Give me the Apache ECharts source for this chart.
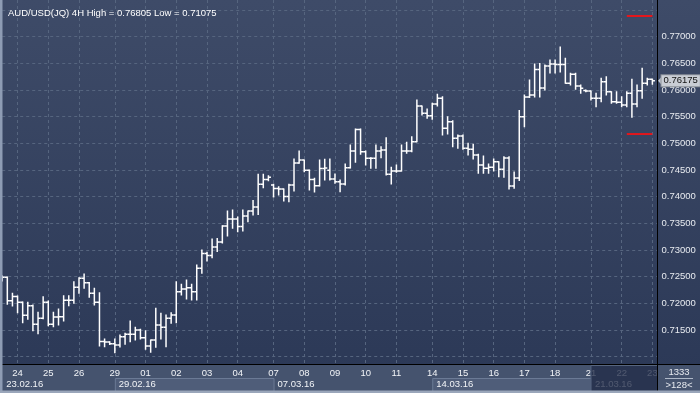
<!DOCTYPE html>
<html><head><meta charset="utf-8">
<script src="https://cdn.jsdelivr.net/npm/echarts@6/dist/echarts.min.js"></script>
<style>html,body{margin:0;padding:0;background:#34425f}#c{width:700px;height:393px}</style>
</head><body><div id="c"></div>
<script>
// ---- categories (4H bars) ----
const H6 = [0, 4, 8, 12, 16, 20];
const sessionDays = ['23.02','24.02','25.02','26.02','28.02','29.02','01.03','02.03','03.03','04.03','06.03','07.03','08.03','09.03','10.03','11.03','13.03','14.03','15.03','16.03','17.03','18.03','20.03','21.03','22.03','23.03'];
const sessionHours = [[12,16,20],H6,H6,H6,[20],H6,H6,H6,H6,H6,[20],H6,H6,H6,H6,H6,[20],H6,H6,H6,H6,H6,[20],H6,H6,[0,4]];
const weekStarts = ['23.02 12:00','29.02 00:00','07.03 00:00','14.03 00:00','21.03 00:00'];
const weekNames = ['23.02.16','29.02.16','07.03.16','14.03.16','21.03.16'];

// ---- OHLC values ----
const openP = [0.72457,0.72489,0.72050,0.72129,0.72020,0.71776,0.71956,0.71607,0.71720,0.72020,
0.71607,0.71744,0.71750,0.72057,0.72057,0.72301,0.72470,0.72387,0.72189,0.72020,
0.71285,0.71276,0.71244,0.71219,0.71375,0.71420,0.71420,0.71501,0.71356,0.71201,
0.71313,0.71594,0.71551,0.71720,0.71782,0.72219,0.72269,0.72294,0.72219,0.72658,
0.72935,0.72897,0.73057,0.73151,0.73451,0.73582,0.73582,0.73441,0.73638,0.73732,
0.73807,0.74232,0.74322,0.74219,0.74154,0.74144,0.74004,0.74219,0.74632,0.74688,
0.74495,0.74322,0.74206,0.74529,0.74495,0.74332,0.74281,0.74238,0.74544,0.74857,
0.75260,0.74844,0.74720,0.74720,0.74857,0.74876,0.74420,0.74482,0.74482,0.74857,
0.74857,0.75031,0.75701,0.75564,0.75520,0.75738,0.75845,0.75282,0.75406,0.75095,
0.75138,0.74907,0.74889,0.74782,0.74594,0.74533,0.74551,0.74656,0.74514,0.74726,
0.74201,0.74351,0.75500,0.75869,0.75907,0.76385,0.76038,0.76451,0.76488,0.76479,
0.76479,0.76126,0.76295,0.76076,0.75991,0.75982,0.75845,0.75845,0.76156,0.75969,
0.75781,0.75770,0.75719,0.75939,0.75738,0.75988,0.76126,0.76201];
const highP = [0.72513,0.72495,0.72189,0.72138,0.72026,0.72020,0.71969,0.71832,0.72125,0.72044,
0.71832,0.71894,0.72144,0.72144,0.72406,0.72481,0.72551,0.72392,0.72283,0.72200,
0.71332,0.71281,0.71332,0.71407,0.71439,0.71669,0.71551,0.71514,0.71487,0.71313,
0.71908,0.71814,0.71782,0.71825,0.72406,0.72357,0.72438,0.72357,0.72719,0.73001,
0.72957,0.73207,0.73216,0.73456,0.73732,0.73751,0.73619,0.73751,0.73732,0.73929,
0.74420,0.74420,0.74394,0.74232,0.74187,0.74144,0.74232,0.74707,0.74857,0.74688,
0.74501,0.74345,0.74688,0.74701,0.74707,0.74426,0.74313,0.74613,0.74969,0.75269,
0.75269,0.74857,0.74732,0.74969,0.74937,0.75106,0.74551,0.74594,0.74969,0.75020,
0.75125,0.75813,0.75701,0.75644,0.75751,0.75920,0.75875,0.75500,0.75425,0.75157,
0.75157,0.75001,0.74982,0.74795,0.74763,0.74613,0.74707,0.74656,0.74750,0.74750,
0.74463,0.75616,0.75907,0.76188,0.76488,0.76497,0.76469,0.76563,0.76563,0.76805,
0.76595,0.76314,0.76314,0.76094,0.76001,0.75982,0.75939,0.76220,0.76250,0.75969,
0.75969,0.75875,0.75969,0.76201,0.76094,0.76407,0.76220,0.76201];
const lowP = [0.72419,0.71982,0.71951,0.71825,0.71637,0.71701,0.71487,0.71431,0.71712,0.71581,
0.71562,0.71594,0.71669,0.71956,0.72001,0.72189,0.72283,0.72114,0.71969,0.71201,
0.71188,0.71229,0.71075,0.71182,0.71232,0.71281,0.71313,0.71332,0.71139,0.71085,
0.71176,0.71332,0.71188,0.71626,0.71637,0.72157,0.72082,0.72063,0.72063,0.72564,
0.72794,0.72856,0.72972,0.73132,0.73263,0.73407,0.73344,0.73357,0.73531,0.73657,
0.73666,0.74169,0.74300,0.73994,0.74032,0.73919,0.73906,0.74107,0.74626,0.74469,
0.74126,0.74088,0.74201,0.74313,0.74313,0.74251,0.74094,0.74219,0.74538,0.74645,
0.74795,0.74594,0.74533,0.74533,0.74731,0.74407,0.74238,0.74457,0.74482,0.74814,
0.74844,0.75031,0.75532,0.75470,0.75451,0.75701,0.75157,0.75176,0.74937,0.74907,
0.74889,0.74782,0.74707,0.74439,0.74439,0.74439,0.74482,0.74375,0.74364,0.74144,
0.74157,0.74304,0.75312,0.75860,0.75869,0.75869,0.76001,0.76319,0.76319,0.76338,
0.76126,0.76094,0.76014,0.75939,0.75969,0.75813,0.75687,0.75781,0.75907,0.75751,
0.75751,0.75687,0.75687,0.75489,0.75687,0.75845,0.76094,0.76107];
const closeP = [0.72489,0.72050,0.72129,0.72020,0.71776,0.71956,0.71607,0.71720,0.72020,0.71607,
0.71744,0.71750,0.72057,0.72057,0.72301,0.72470,0.72387,0.72189,0.72020,0.71285,
0.71276,0.71244,0.71219,0.71375,0.71420,0.71420,0.71501,0.71356,0.71201,0.71313,
0.71594,0.71551,0.71720,0.71782,0.72219,0.72269,0.72294,0.72219,0.72658,0.72935,
0.72897,0.73057,0.73151,0.73451,0.73582,0.73582,0.73441,0.73638,0.73732,0.73807,
0.74232,0.74322,0.74364,0.74154,0.74144,0.74004,0.74219,0.74632,0.74688,0.74495,
0.74322,0.74206,0.74529,0.74538,0.74332,0.74281,0.74238,0.74544,0.74857,0.75260,
0.74844,0.74720,0.74720,0.74857,0.74876,0.74420,0.74482,0.74482,0.74857,0.74857,
0.75031,0.75701,0.75564,0.75520,0.75738,0.75845,0.75282,0.75406,0.75095,0.75138,
0.74907,0.74889,0.74782,0.74594,0.74533,0.74551,0.74656,0.74514,0.74726,0.74201,
0.74351,0.75500,0.75869,0.75907,0.76385,0.76038,0.76451,0.76488,0.76479,0.76479,
0.76126,0.76295,0.76076,0.76032,0.75982,0.75845,0.75845,0.76156,0.75969,0.75781,
0.75770,0.75719,0.75939,0.75738,0.75988,0.76126,0.76201,0.76175];

// red level lines
const redLevels = [0.77388, 0.75175];
const redFrom = '22.03 04:00';
const redTo = '23.03 00:00';

// y-axis tick settings
const yMin = 0.705, yMax = 0.775, yStep = 0.005;
const yLabelLo = 0.715, yLabelHi = 0.770;

// ---- build ----
const categories = [];
sessionDays.forEach((d, k) => sessionHours[k].forEach(h => categories.push(d + ' ' + String(h).padStart(2, '0') + ':00')));
const isDayStart = v => v.endsWith(' 00:00');
const ohlc = openP.map((o, i) => [i, o, highP[i], lowP[i], closeP[i]]);
const FONT = "'Liberation Sans', Arial, sans-serif";
const titleText = 'AUD/USD(JQ) 4H High = ' + Math.max(...highP).toFixed(5) + ' Low = ' + Math.min(...lowP).toFixed(5);

function renderOHLC(params, api) {
  const i = api.value(0);
  const pO = api.coord([i, api.value(1)]);
  const pH = api.coord([i, api.value(2)]);
  const pL = api.coord([i, api.value(3)]);
  const pC = api.coord([i, api.value(4)]);
  const step = api.coord([i + 1, api.value(1)])[0] - pO[0];
  const half = step * 0.5;
  const x = pH[0];
  const st = { stroke: '#ffffff', lineWidth: 1.5 };
  return {
    type: 'group',
    children: [
      { type: 'line', shape: { x1: x, y1: pH[1] - 0.5, x2: x, y2: pL[1] + 0.5 }, style: st },
      { type: 'line', shape: { x1: x - half, y1: pO[1], x2: x, y2: pO[1] }, style: st },
      { type: 'line', shape: { x1: x, y1: pC[1], x2: x + half, y2: pC[1] }, style: st }
    ]
  };
}
function renderLevel(params, api) {
  const a = api.coord([api.value(0), api.value(2)]);
  const b = api.coord([api.value(1), api.value(2)]);
  return { type: 'line', shape: { x1: a[0], y1: a[1], x2: b[0], y2: b[1] }, style: { stroke: '#e3161c', lineWidth: 2 } };
}

const chart = echarts.init(document.getElementById('c'), null, { renderer: 'canvas', width: 700, height: 393 });
const gridCol = '#56657f';
// 0.775 sits at y≈10, 0.705 at y≈383.4 (26.67 px per 0.005)
const option = {
  animation: false,
  backgroundColor: { type: 'linear', x: 0, y: 0, x2: 0, y2: 1, colorStops: [{ offset: 0, color: '#3e4b68' }, { offset: 1, color: '#2b3856' }] },
  title: { text: titleText, left: 3, top: 3, textStyle: { color: '#ffffff', fontSize: 9.5, fontWeight: 'normal', fontFamily: FONT } },
  grid: [
    { left: 2.2, right: 42.5, top: 10.03, bottom: 9.6, containLabel: false },
    { left: 2.2, right: 42.5, top: 0, bottom: 29, containLabel: false }
  ],
  xAxis: [
    { type: 'category', gridIndex: 0, data: categories, boundaryGap: false, axisLine: { show: false }, axisTick: { show: false }, axisLabel: { show: false }, splitLine: { show: false } },
    { type: 'category', gridIndex: 0, data: categories, boundaryGap: false, position: 'bottom', offset: -19.4, z: 60,
      axisLine: { show: false }, axisTick: { show: false }, splitLine: { show: false },
      axisLabel: { interval: (i, v) => isDayStart(v), formatter: v => v.slice(0, 2), color: '#f2f4f7', fontSize: 9.5, fontFamily: FONT, margin: 4 } },
    { type: 'category', gridIndex: 0, data: categories, boundaryGap: false, position: 'bottom', offset: -19.4, z: 60,
      axisLine: { show: false }, axisTick: { show: false }, splitLine: { show: false },
      axisLabel: { interval: (i, v) => weekStarts.includes(v), formatter: v => weekNames[weekStarts.indexOf(v)], align: 'left', padding: [0, 0, 0, 4],
        color: '#f2f4f7', fontSize: 9.5, fontFamily: FONT, margin: 15 } },
    { type: 'category', gridIndex: 1, data: categories, boundaryGap: false, axisLine: { show: false }, axisTick: { show: false }, axisLabel: { show: false },
      splitLine: { show: true, interval: (i, v) => isDayStart(v), lineStyle: { color: gridCol, type: [3, 3], width: 1 } } }
  ],
  yAxis: [
    { type: 'value', gridIndex: 0, position: 'right', min: yMin, max: yMax, interval: yStep, axisLine: { show: false }, axisTick: { show: false },
      axisLabel: { color: '#e8ebf0', fontSize: 9.5, fontFamily: FONT, margin: 4,
        formatter: v => (v > yLabelLo - 0.0005 && v < yLabelHi + 0.0005) ? v.toFixed(5) : '' },
      splitLine: { show: true, lineStyle: { color: gridCol, type: [3, 3], width: 1 } } },
    { type: 'value', gridIndex: 1, show: false, min: 0, max: 1 }
  ],
  series: [
    { type: 'custom', name: 'AUD/USD', xAxisIndex: 0, yAxisIndex: 0, renderItem: renderOHLC, data: ohlc, encode: { x: 0, y: [1, 2, 3, 4] }, clip: true, z: 5 },
    { type: 'custom', name: 'levels', xAxisIndex: 0, yAxisIndex: 0, renderItem: renderLevel,
      data: redLevels.map(v => [categories.indexOf(redFrom), categories.indexOf(redTo), v]), encode: { x: [0, 1], y: 2 }, clip: false, z: 6 }
  ]
};
chart.setOption(option);

// ---- decorations positioned from the axes ----
const px = i => chart.convertToPixel({ xAxisIndex: 0 }, i);
const py = v => chart.convertToPixel({ yAxisIndex: 0 }, v);
const rightX = 657.5, axisY = 364;
const wIdx = weekStarts.map(w => categories.indexOf(w));
const lastPrice = closeP[closeP.length - 1];
const yp = py(lastPrice);
const txt = (t, x, y, extra) => Object.assign({ type: 'text', x: x, y: y, z: 96, silent: true,
  style: Object.assign({ text: t, fill: '#e8ebf0', font: '9.5px ' + FONT, textAlign: 'center', align: 'center', textVerticalAlign: 'middle', verticalAlign: 'middle' }, extra || {}) });
const g = [
  { type: 'rect', z: 50, silent: true, shape: { x: 0, y: axisY, width: 700, height: 29 }, style: { fill: '#45536e' } }
];
[1, 3].forEach(k => {
  const x0 = px(wIdx[k]), x1 = px(wIdx[k + 1]);
  g.push({ type: 'rect', z: 55, silent: true, shape: { x: x0 + 0.5, y: 378.5, width: x1 - x0, height: 13 }, style: { fill: '#4f5d79', stroke: '#6b7a95', lineWidth: 1 } });
});
const xd = px(wIdx[4]);
g.push({ type: 'rect', z: 90, silent: true, shape: { x: xd, y: 365.5, width: rightX - xd, height: 26 }, style: { fill: 'rgba(33,44,72,0.78)', stroke: '#56657f', lineWidth: 1 } });
g.push({ type: 'line', z: 95, silent: true, shape: { x1: 0, y1: axisY + 0.5, x2: 700, y2: axisY + 0.5 }, style: { stroke: '#000000', lineWidth: 1 } });
g.push({ type: 'line', z: 95, silent: true, shape: { x1: rightX, y1: 0, x2: rightX, y2: 393 }, style: { stroke: '#000000', lineWidth: 1 } });
g.push({ type: 'rect', z: 95, silent: true, shape: { x: 0, y: 0, width: 2.5, height: 393 }, style: { fill: '#8e9cb4' } });
g.push({ type: 'rect', z: 95, silent: true, shape: { x: 0, y: 390.5, width: 700, height: 2.5 }, style: { fill: '#9aa6ba' } });
g.push(txt('1333', 679, 372));
g.push({ type: 'line', z: 96, silent: true, shape: { x1: 665, y1: 378.5, x2: 693, y2: 378.5 }, style: { stroke: '#aeb8c8', lineWidth: 1 } });
g.push(txt('>128<', 679, 385));
g.push({ type: 'polygon', z: 96, silent: true, shape: { points: [[658, yp], [662, yp - 4.5], [662, yp + 4.5]] }, style: { fill: '#c9cdd4' } });
g.push(txt(lastPrice.toFixed(5), 661.5, yp, { fill: '#111111', textAlign: 'left', align: 'left', backgroundColor: '#c9cdd4', borderColor: '#8a9099', borderWidth: 1, padding: [1, 2, 0, 2] }));
chart.setOption({ graphic: g });
</script>
</body></html>
